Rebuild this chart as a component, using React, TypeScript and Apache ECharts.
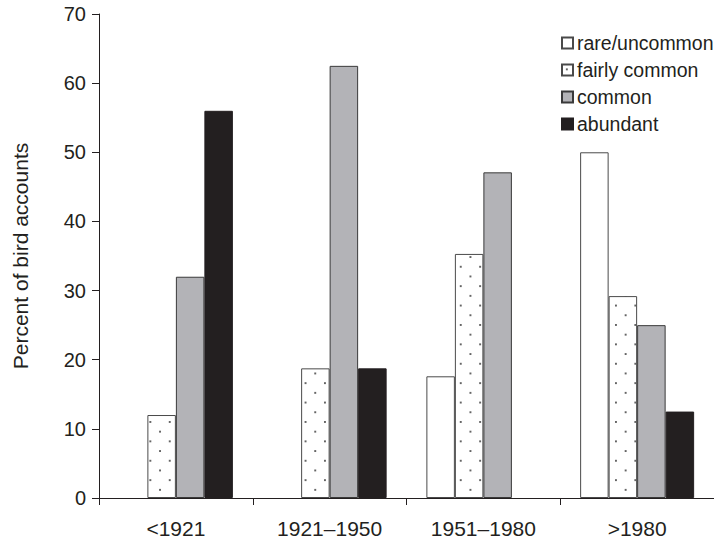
import React, { useEffect, useRef } from "react";
import * as echarts from "echarts";

const categories = ["<1921", "1921\u20131950", "1951\u20131980", ">1980"];
const seriesNames = ["rare/uncommon", "fairly common", "common", "abundant"];
const rareValues = [0, 0, 17.6, 50];
const fairlyValues = [12, 18.75, 35.3, 29.2];
const commonValues = [32, 62.5, 47.1, 25];
const abundantValues = [56, 18.75, 0, 12.5];
const yTicks = { min: 0, max: 70, interval: 10 };

const FONT = "'Liberation Sans', Arial, Helvetica, sans-serif";
const INK = "#231f20";

const dotSvg =
  '<svg xmlns="http://www.w3.org/2000/svg" width="19.4" height="19.4">' +
  '<rect width="19.4" height="19.4" fill="#ffffff"/>' +
  '<circle cx="4.85" cy="4.85" r="1" fill="#333333"/>' +
  '<circle cx="14.55" cy="14.55" r="1" fill="#333333"/>' +
  "</svg>";
const dotUrl = "data:image/svg+xml;charset=utf-8," + encodeURIComponent(dotSvg);

const toData = (arr: number[]) => arr.map((v) => (v === 0 ? null : v));

export default function App() {
  const ref = useRef<HTMLDivElement>(null);
  useEffect(() => {
    if (!ref.current) return;
    const chart = echarts.init(ref.current, undefined, { renderer: "svg" });
    const pattern: any = {
      image: dotUrl,
      repeat: "repeat",
      imageWidth: 19.4,
      imageHeight: 19.4,
      x: 8.85,
      y: 14.95,
    };
    const styles = [
      { color: "#ffffff", borderColor: "#4a4a4a", borderWidth: 1 },
      { color: pattern, borderColor: "#4a4a4a", borderWidth: 1 },
      { color: "#b3b3b7", borderColor: "#3a3a3a", borderWidth: 1 },
      { color: INK, borderColor: INK, borderWidth: 1 },
    ];
    const values = [rareValues, fairlyValues, commonValues, abundantValues];
    chart.setOption({
      animation: false,
      textStyle: { fontFamily: FONT },
      grid: { left: 99, right: -8, top: 14, bottom: 45, containLabel: false },
      legend: {
        orient: "vertical",
        left: 556,
        top: 28,
        itemWidth: 11,
        itemHeight: 11,
        itemGap: 7,
        icon: "rect",
        data: seriesNames,
        textStyle: { fontSize: 19.5, color: INK, fontFamily: FONT, padding: [0, 0, 0, -1] },
      },
      xAxis: {
        type: "category",
        data: categories,
        boundaryGap: true,
        axisLine: { show: true, lineStyle: { color: INK, width: 1 } },
        axisTick: { show: true, length: 7, lineStyle: { color: INK } },
        axisLabel: { fontSize: 21, color: INK, margin: 20, fontFamily: FONT },
        splitLine: { show: false },
      },
      yAxis: {
        type: "value",
        min: yTicks.min,
        max: yTicks.max,
        interval: yTicks.interval,
        name: "Percent of bird accounts",
        nameLocation: "middle",
        nameRotate: 90,
        nameGap: 68,
        nameTextStyle: { fontSize: 21, color: INK, fontFamily: FONT },
        axisLine: { show: true, lineStyle: { color: INK, width: 1 } },
        axisTick: { show: true, length: 7, lineStyle: { color: INK } },
        axisLabel: { fontSize: 20, color: INK, margin: 13, fontFamily: FONT },
        splitLine: { show: false },
      },
      series: seriesNames.map((name, i) => ({
        name,
        type: "bar",
        data: toData(values[i]),
        barWidth: 28.5,
        barGap: "0%",
        itemStyle: styles[i],
        emphasis: { disabled: true },
      })),
    });
    return () => chart.dispose();
  }, []);
  return (
    <div
      ref={ref}
      style={{ position: "fixed", left: 0, top: 0, width: 714, height: 543, background: "#fff" }}
    />
  );
}
